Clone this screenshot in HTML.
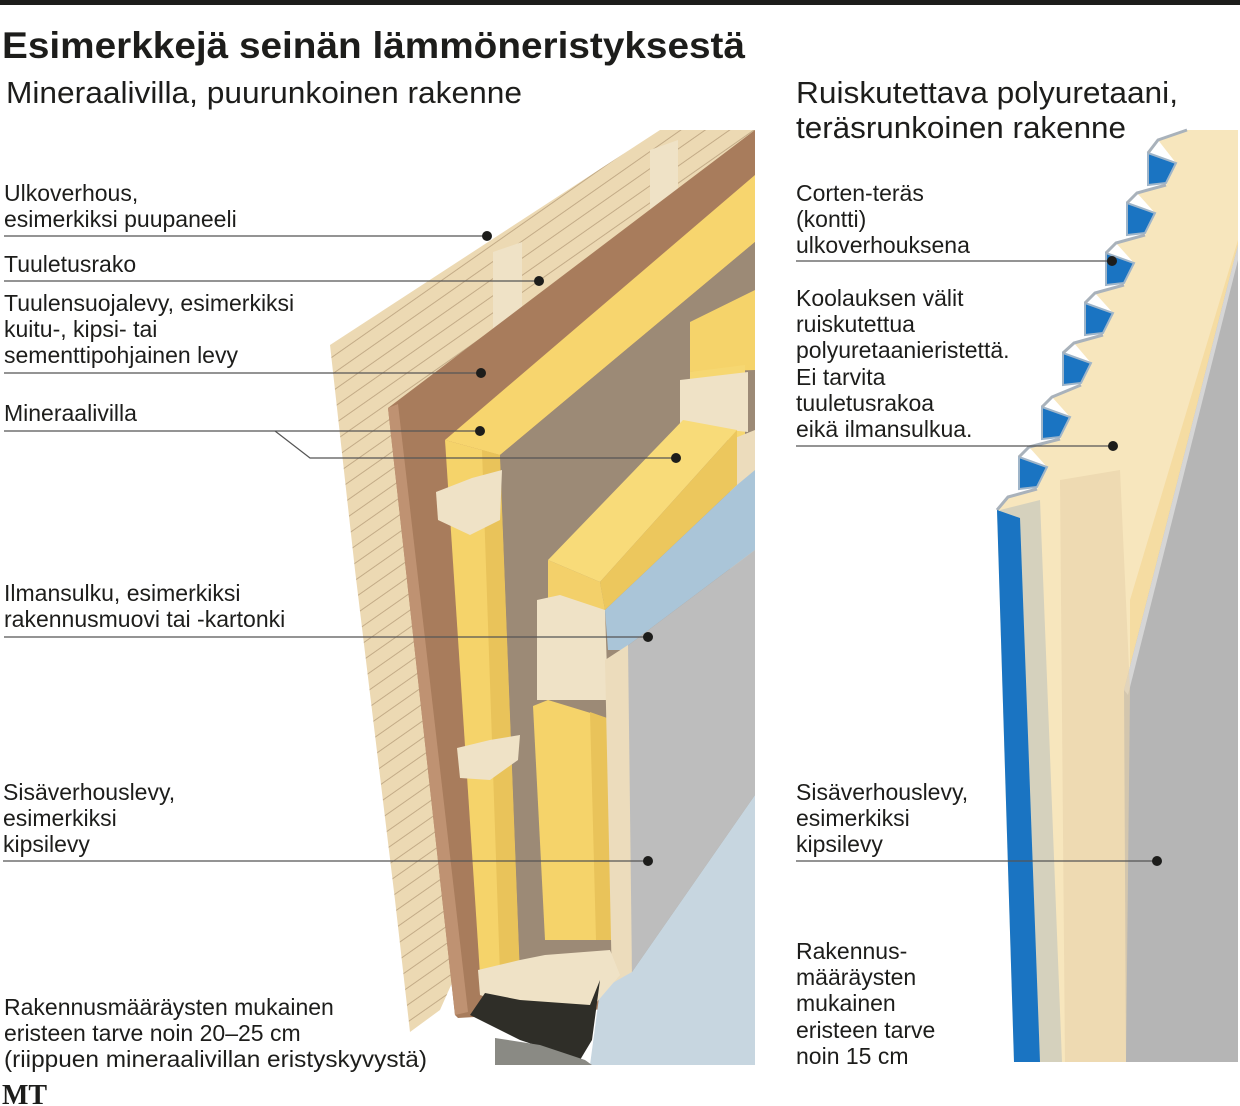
<!DOCTYPE html>
<html><head><meta charset="utf-8"><style>
html,body{margin:0;padding:0;background:#fff;}
svg{display:block;}
text{font-family:"Liberation Sans",sans-serif;fill:#1d1d1b;}
.l{font-size:23px;}
</style></head><body>
<svg width="1240" height="1106" viewBox="0 0 1240 1106" xmlns="http://www.w3.org/2000/svg">
<defs>
<pattern id="hatch" width="14" height="14" patternUnits="userSpaceOnUse" patternTransform="rotate(-35)">
<rect width="14" height="14" fill="#ecd9b3"/>
<line x1="0" y1="7" x2="14" y2="7" stroke="#b9a07c" stroke-width="0.8"/>
</pattern>
</defs>
<rect x="0" y="0" width="1240" height="5" fill="#1d1d1b"/>
<text x="2" y="58" font-size="37" font-weight="bold" textLength="743" lengthAdjust="spacingAndGlyphs">Esimerkkejä seinän lämmöneristyksestä</text>
<text x="6" y="103" font-size="31" textLength="516" lengthAdjust="spacingAndGlyphs">Mineraalivilla, puurunkoinen rakenne</text>
<text x="796" y="103" font-size="31" textLength="382" lengthAdjust="spacingAndGlyphs">Ruiskutettava polyuretaani,</text>
<text x="796" y="138" font-size="31" textLength="330" lengthAdjust="spacingAndGlyphs">teräsrunkoinen rakenne</text>

<!-- LEFT ILLUSTRATION -->
<polygon points="330,345 660,130 755,130 755,300 440,1010 410,1032 395,900 355,570" fill="url(#hatch)"/>
<polygon points="650,150 678,140 678,230 650,232" fill="#efe2c6"/>
<polygon points="493,252 522,242 522,330 493,335" fill="#efe2c6"/>
<polygon points="388,408 755,130 755,1000 458,1018 455,1015" fill="#a87c5c"/>
<polygon points="388,408 398,404 468,1012 455,1015" fill="#bf9272"/>
<polygon points="445,440 755,175 755,242 500,455" fill="#f7d56e"/>
<polygon points="445,440 500,455 520,975 480,975" fill="#f5d36a"/>
<polygon points="482,450 500,455 520,975 500,975" fill="#e9c35a"/>
<polygon points="500,455 755,242 755,1000 540,1000 520,975" fill="#9c8a76"/>
<polygon points="690,322 755,290 755,370 690,372" fill="#f5d36a"/>
<polygon points="690,372 745,365 745,440 690,440" fill="#f6d771"/>
<polygon points="680,380 748,372 748,432 680,425" fill="#efe2c6"/>
<polygon points="730,440 755,430 755,560 730,575" fill="#ecdcbc"/>
<polygon points="436,492 472,478 502,470 500,520 470,535 438,520" fill="#efe2c6"/>
<polygon points="457,748 490,740 520,735 518,760 490,780 460,778" fill="#efe2c6"/>
<polygon points="548,560 683,420 737,430 600,582" fill="#f8db79"/>
<polygon points="600,582 737,430 737,485 605,610" fill="#ecc75d"/>
<polygon points="548,560 600,582 605,610 548,600" fill="#f3d06a"/>
<polygon points="537,600 560,595 605,610 608,700 537,700" fill="#efe2c6"/>
<polygon points="605,610 737,485 755,470 755,550 622,650 608,650" fill="#aac5d8"/>
<polygon points="533,706 548,700 607,718 612,940 545,940" fill="#f5d36a"/>
<polygon points="590,712 607,718 612,940 596,940" fill="#e9c35a"/>
<polygon points="622,650 755,550 755,795 632,972" fill="#bdbdbd"/>
<polygon points="605,660 628,645 632,975 612,985" fill="#ecdcbc"/>
<polygon points="600,990 632,972 755,795 755,1065 590,1065" fill="#c7d6e0"/>
<polygon points="478,970 520,960 545,955 610,950 620,975 590,1010 510,1005 480,995" fill="#efe2c6"/>
<polygon points="470,1015 485,993 520,1000 590,1005 600,980 592,1040 580,1060 520,1040" fill="#2f2e28"/>
<polygon points="495,1038 540,1045 585,1060 592,1065 495,1065" fill="#8a8a84"/>

<!-- RIGHT ILLUSTRATION -->
<polygon points="1187,130 1238,130 1238,1062 1040,1062 1014,1062 997,510 1008,497 1037,489 1047,467 1029,447 1060,439 1070,417 1052,397 1081,385 1091,363 1074,343 1103,335 1113,313 1095,293 1124,285 1134,263 1116,243 1145,235 1155,213 1137,193 1166,185 1176,163 1158,140" fill="#f7e6bd"/>
<polygon points="1130,600 1238,240 1238,1062 1130,1062" fill="#f5dca2"/>
<polygon points="1124,690 1238,245 1238,1062 1126,1062" fill="#b5b5b5"/>
<polygon points="1124,690 1238,245 1238,260 1128,695" fill="#d6d6d6"/>
<polygon points="1000,510 1040,500 1062,1062 1040,1062" fill="#d5d1bd"/>
<polygon points="1060,480 1120,470 1130,690 1126,1062 1065,1062" fill="#e8d2aa" opacity="0.6"/>
<g fill="#1a74c2" stroke="#9fb5c9" stroke-width="2">
<polygon points="1148,153 1176,163 1166,183 1148,185"/>
<polygon points="1127,203 1155,213 1145,233 1127,235"/>
<polygon points="1106,253 1134,263 1124,283 1106,285"/>
<polygon points="1085,303 1113,313 1103,333 1085,335"/>
<polygon points="1063,353 1091,363 1081,383 1063,385"/>
<polygon points="1042,407 1070,417 1060,437 1042,439"/>
<polygon points="1019,457 1047,467 1037,487 1019,489"/>
</g>
<g fill="none" stroke="#a9b2bb" stroke-width="3">
<polyline points="1187,130 1158,140 1148,153"/>
<polyline points="1166,185 1137,193 1127,203"/>
<polyline points="1145,235 1116,243 1106,253"/>
<polyline points="1124,285 1095,293 1085,303"/>
<polyline points="1103,335 1074,343 1063,353"/>
<polyline points="1081,385 1052,397 1042,407"/>
<polyline points="1060,439 1029,447 1019,457"/>
<polyline points="1037,489 1008,497 997,510"/>
</g>
<polygon points="997,510 1020,518 1040,1062 1014,1062" fill="#1a74c2"/>

<!-- LEFT LABELS -->
<text class="l" x="4" y="201">Ulkoverhous,</text>
<text class="l" x="4" y="227">esimerkiksi puupaneeli</text>
<line x1="4" y1="236" x2="487" y2="236" stroke="#555" stroke-width="1.2"/><circle cx="487" cy="236" r="5" fill="#1d1d1b"/>
<text class="l" x="4" y="272">Tuuletusrako</text>
<line x1="4" y1="281" x2="539" y2="281" stroke="#555" stroke-width="1.2"/><circle cx="539" cy="281" r="5" fill="#1d1d1b"/>
<text class="l" x="4" y="311">Tuulensuojalevy, esimerkiksi</text>
<text class="l" x="4" y="337">kuitu-, kipsi- tai</text>
<text class="l" x="4" y="363">sementtipohjainen levy</text>
<line x1="4" y1="373" x2="481" y2="373" stroke="#555" stroke-width="1.2"/><circle cx="481" cy="373" r="5" fill="#1d1d1b"/>
<text class="l" x="4" y="421">Mineraalivilla</text>
<line x1="4" y1="431" x2="480" y2="431" stroke="#555" stroke-width="1.2"/><circle cx="480" cy="431" r="5" fill="#1d1d1b"/>
<polyline points="275,431 310,458 676,458" fill="none" stroke="#555" stroke-width="1.2"/><circle cx="676" cy="458" r="5" fill="#1d1d1b"/>
<text class="l" x="4" y="601">Ilmansulku, esimerkiksi</text>
<text class="l" x="4" y="627">rakennusmuovi tai -kartonki</text>
<line x1="4" y1="637" x2="648" y2="637" stroke="#555" stroke-width="1.2"/><circle cx="648" cy="637" r="5" fill="#1d1d1b"/>
<text class="l" x="3" y="800">Sisäverhouslevy,</text>
<text class="l" x="3" y="826">esimerkiksi</text>
<text class="l" x="3" y="852">kipsilevy</text>
<line x1="3" y1="861" x2="648" y2="861" stroke="#555" stroke-width="1.2"/><circle cx="648" cy="861" r="5" fill="#1d1d1b"/>
<text class="l" x="4" y="1015">Rakennusmääräysten mukainen</text>
<text class="l" x="4" y="1041">eristeen tarve noin 20–25 cm</text>
<text class="l" x="4" y="1067" textLength="423" lengthAdjust="spacingAndGlyphs">(riippuen mineraalivillan eristyskyvystä)</text>
<text x="2" y="1104" font-size="28" font-weight="bold" style="font-family:'Liberation Serif',serif">MT</text>

<!-- RIGHT LABELS -->
<text class="l" x="796" y="201">Corten-teräs</text>
<text class="l" x="796" y="227">(kontti)</text>
<text class="l" x="796" y="253">ulkoverhouksena</text>
<line x1="796" y1="261" x2="1112" y2="261" stroke="#555" stroke-width="1.2"/><circle cx="1112" cy="261" r="5" fill="#1d1d1b"/>
<text class="l" x="796" y="306">Koolauksen välit</text>
<text class="l" x="796" y="332">ruiskutettua</text>
<text class="l" x="796" y="358">polyuretaanieristettä.</text>
<text class="l" x="796" y="385">Ei tarvita</text>
<text class="l" x="796" y="411">tuuletusrakoa</text>
<text class="l" x="796" y="437">eikä ilmansulkua.</text>
<line x1="796" y1="446" x2="1113" y2="446" stroke="#555" stroke-width="1.2"/><circle cx="1113" cy="446" r="5" fill="#1d1d1b"/>
<text class="l" x="796" y="800">Sisäverhouslevy,</text>
<text class="l" x="796" y="826">esimerkiksi</text>
<text class="l" x="796" y="852">kipsilevy</text>
<line x1="796" y1="861" x2="1157" y2="861" stroke="#555" stroke-width="1.2"/><circle cx="1157" cy="861" r="5" fill="#1d1d1b"/>
<text class="l" x="796" y="959">Rakennus-</text>
<text class="l" x="796" y="985">määräysten</text>
<text class="l" x="796" y="1011">mukainen</text>
<text class="l" x="796" y="1038">eristeen tarve</text>
<text class="l" x="796" y="1064">noin 15 cm</text>
</svg>
</body></html>
